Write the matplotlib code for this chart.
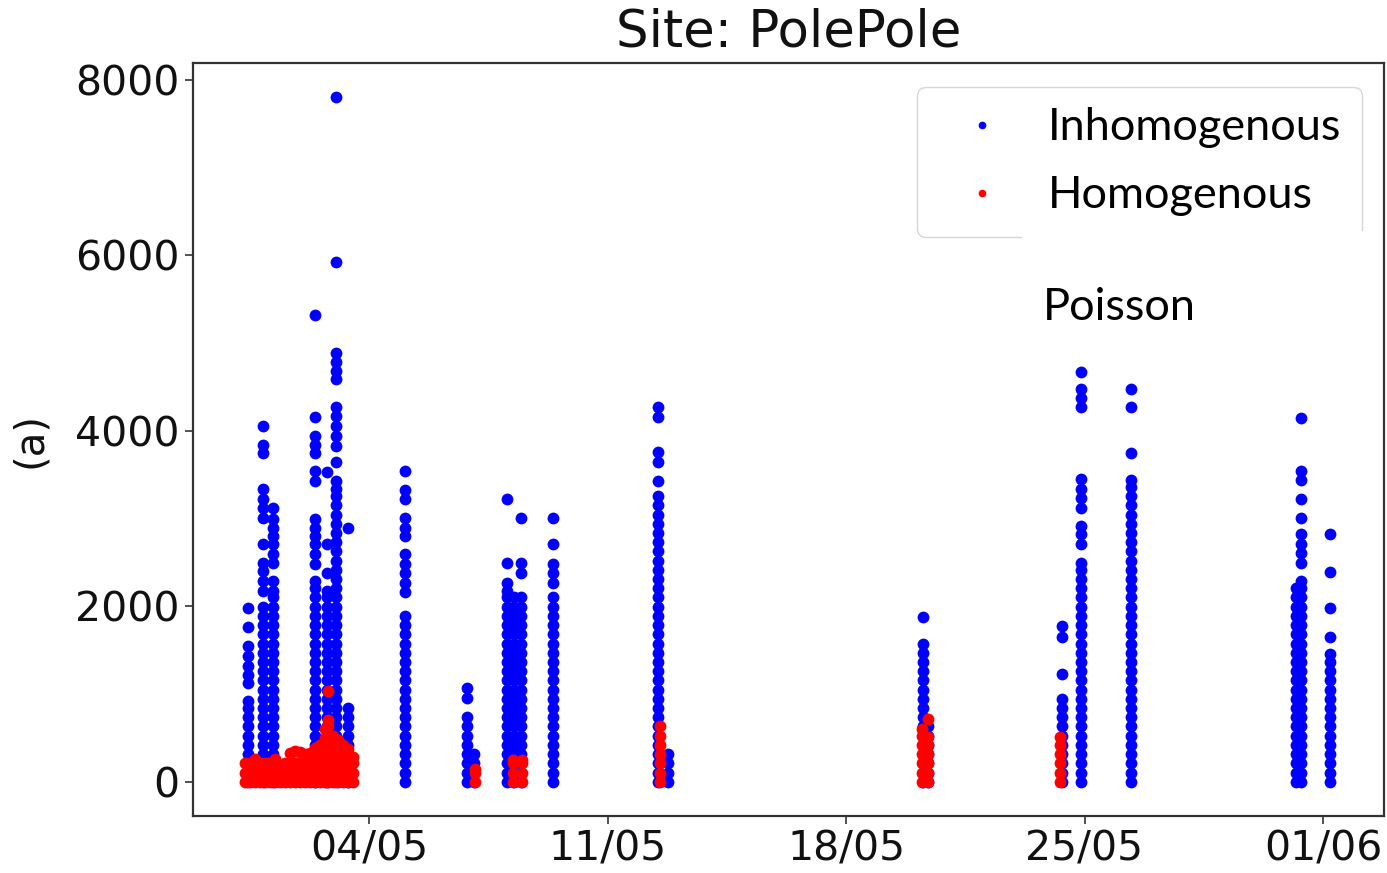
import datetime as dt
import matplotlib
matplotlib.use("Agg")
import matplotlib.pyplot as plt
from matplotlib.patches import Rectangle

# stacked value levels (rows of dots as they appear in the picture)
levels = [0, 105, 210, 315, 420, 525, 630, 735, 840, 945, 1050, 1155, 1260,
          1365, 1470, 1575, 1680, 1785, 1890, 1995, 2100, 2205, 2310, 2415,
          2520, 2625, 2730, 2835, 2940, 3045, 3150, 3255, 3360]

# days relative to 04/05, number of filled rows from zero, extra isolated values
inhom_days = [-3.55, -3.11, -2.82, -1.585, -1.23, -0.97, -0.62, 1.06, 2.88,
              3.08, 4.05, 4.25, 4.45, 5.40, 8.48, 8.78, 16.26, 16.42, 20.34,
              20.90, 22.37, 27.22, 27.35, 28.20]
inhom_rows = [9, 20, 21, 22, 21, 32, 9, 19, 8,
              3, 21, 21, 21, 21, 32, 3, 15, 7, 10,
              24, 33, 22, 22, 14]
inhom_extra = [
    [915, 1120, 1220, 1315, 1430, 1545, 1760, 1980],
    [2170, 2285, 2400, 2490, 2710, 3005, 3120, 3225, 3340, 3750, 3840, 4055],
    [2170, 2285, 2490, 2595, 2710, 2800, 2890, 2995, 3120],
    [2285, 2480, 2595, 2710, 2800, 2890, 2995, 3430, 3545, 3750, 3840, 3945, 4160, 5315],
    [2170, 2375, 2710, 3530],
    [3340, 3430, 3645, 3830, 3945, 4055, 4170, 4265, 4595, 4685, 4780, 4890, 5920, 7800],
    [2890],
    [2160, 2265, 2375, 2480, 2595, 2800, 2890, 3005, 3225, 3325, 3545],
    [950, 1065],
    [320],
    [2170, 2265, 2490, 3225],
    [],
    [2375, 2490, 3005],
    [2265, 2375, 2480, 2710, 3005],
    [3430, 3645, 3760, 4160, 4265],
    [320],
    [1565, 1875],
    [],
    [1225, 1655, 1770],
    [2490, 2710, 2825, 2915, 3120, 3235, 3340, 3450, 4265, 4375, 4480, 4665],
    [3440, 3750, 4265, 4480],
    [],
    [2285, 2490, 2605, 2710, 2825, 3005, 3225, 3440, 3545, 4150],
    [1451, 1655, 1975, 2390, 2825],
]

hom_days = [-3.64, -3.49, -3.35, -3.20, -3.05, -2.91, -2.76, -2.61, -2.47,
            -2.32, -2.17, -2.03, -1.88, -1.73, -1.58, -1.44, -1.29, -1.20,
            -1.06, -0.91, -0.76, -0.62, -0.47, 3.10, 4.22, 4.48, 8.55,
            16.22, 16.40, 20.28]
hom_rows = [3, 3, 3, 3, 3, 3, 3, 2, 3,
            3, 3, 3, 3, 3, 4, 5, 5, 7,
            6, 5, 5, 4, 3, 2, 3, 3, 7,
            6, 5, 5]
hom_extra = [[], [], [265], [], [], [], [265], [190], [],
             [330], [350], [340], [320], [330], [380], [], [500, 600], [700, 1040],
             [], [480], [], [370], [280], [140], [250], [250], [],
             [606], [515, 720], [514]]

xtick_labels = ["04/05", "11/05", "18/05", "25/05", "01/06"]

base = dt.datetime(2020, 5, 4)


def expand(days, rows, extra):
    xs, ys = [], []
    for d, n, ex in zip(days, rows, extra):
        vals = levels[:n] + ex
        xs += [base + dt.timedelta(days=d)] * len(vals)
        ys += vals
    return xs, ys


fig = plt.figure(figsize=(13.87, 8.73), dpi=100)
ax = fig.add_axes([193 / 1387, 57 / 873, 1191 / 1387, 753 / 873])

x1, y1 = expand(inhom_days, inhom_rows, inhom_extra)
x2, y2 = expand(hom_days, hom_rows, hom_extra)
ax.plot(x1, y1, 'o', color='blue', markersize=8.5, markeredgewidth=0,
        label='Inhomogenous')
ax.plot(x2, y2, 'o', color='red', markersize=8.5, markeredgewidth=0,
        label='Homogenous')

ticks = [base + dt.timedelta(days=7 * i) for i in range(5)]
ax.set_xticks(ticks)
ax.set_xticklabels(xtick_labels)
ax.set_xlim(base - dt.timedelta(days=5.166), base + dt.timedelta(days=29.79))
ax.set_ylim(-390, 8190)
ax.set_yticks([0, 2000, 4000, 6000, 8000])

ax.tick_params(labelsize=29.5, length=6, width=1.2, colors='#333333',
               labelcolor='#111111')
for s in ax.spines.values():
    s.set_linewidth(1.6)
    s.set_color('#333333')

ax.set_title('Site: PolePole', fontsize=37, pad=12, color='#111111')
ax.set_ylabel('(a)', fontsize=29, color='#111111', labelpad=18)

leg = ax.legend(loc='upper left', bbox_to_anchor=(917 / 1387, 1 - 87 / 873),
                bbox_transform=fig.transFigure, prop={'family': 'Lato', 'size': 32.5},
                markerscale=0.65, handlelength=2.0, handletextpad=0.45,
                labelspacing=0.6, borderpad=0.45, borderaxespad=0)

# white patch hiding the lower right of the legend, as in the source figure
fig.add_artist(Rectangle((1022 / 1387, 1 - 345 / 873), 345 / 1387, 114 / 873,
                         transform=fig.transFigure, facecolor='white',
                         edgecolor='none', zorder=5))
fig.text(1043 / 1387, 1 - 320 / 873, 'Poisson', family='Lato', fontsize=32.5,
         va='baseline', zorder=6)

fig.savefig('out.png', dpi=100)
